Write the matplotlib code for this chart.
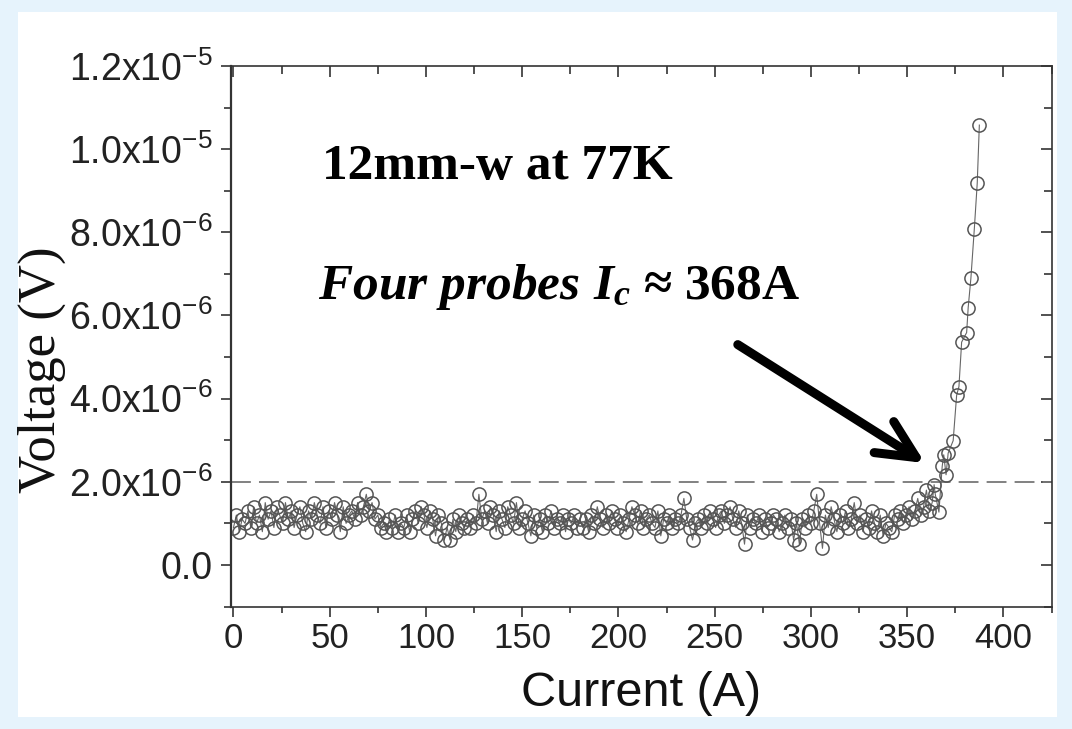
import numpy as np
import matplotlib
matplotlib.use("Agg")
import matplotlib.pyplot as plt
from matplotlib.patches import Rectangle
from matplotlib.ticker import FixedLocator, MultipleLocator, FuncFormatter

plt.rcParams["mathtext.fontset"] = "custom"
plt.rcParams["mathtext.rm"] = "Liberation Serif:bold"
plt.rcParams["mathtext.it"] = "Liberation Serif:italic:bold"
plt.rcParams["mathtext.sf"] = "Liberation Sans"

# flat part of the sweep: 1.5 A steps from 0 A, voltage in units of 1e-7 V
STEP_A = 1.5
FLOOR_0_60 = [9, 12, 8, 11, 10, 13, 9, 14, 10, 12, 8, 15, 11, 13, 9, 14, 12, 10, 15, 11,
              13, 9, 12, 14, 10, 8, 13, 11, 15, 12, 10, 14, 9, 13, 11, 15, 12, 8, 14, 10, 12]
FLOOR_60_120 = [13, 11, 15, 12, 14, 17, 13, 15, 11, 12, 9, 10, 8, 11, 9, 12, 8, 10, 9, 12,
                8, 11, 13, 10, 14, 12, 9, 13, 11, 7, 12, 10, 6, 9, 6, 11, 8, 12, 10, 9]
FLOOR_120_180 = [11, 9, 12, 10, 17, 11, 13, 10, 14, 12, 8, 13, 11, 9, 14, 12, 10, 15, 9, 11,
                 13, 10, 7, 12, 9, 11, 8, 12, 10, 13, 9, 11, 10, 12, 8, 11, 10, 12, 9, 11]
FLOOR_180_240 = [9, 11, 8, 12, 10, 14, 11, 9, 12, 10, 13, 11, 9, 12, 10, 8, 11, 14, 12, 10,
                 13, 9, 11, 12, 10, 9, 13, 7, 11, 10, 12, 9, 11, 10, 12, 16, 11, 9, 6, 10]
FLOOR_240_300 = [11, 9, 12, 10, 13, 11, 9, 12, 13, 10, 12, 14, 11, 9, 13, 10, 5, 12, 9, 11,
                 10, 12, 8, 11, 9, 10, 12, 11, 8, 10, 12, 9, 11, 6, 10, 5, 11, 9, 12, 10]
FLOOR_300_363 = [13, 17, 10, 4, 12, 9, 14, 11, 8, 12, 10, 13, 9, 11, 15, 10, 12, 8, 11, 9,
                 13, 10, 8, 12, 7, 10, 9, 8, 12, 11, 13, 10, 12, 14, 11, 13, 16, 12, 14, 18, 13, 15]

# transition region, read point by point
RISE_I = [364.0, 364.6, 366.5, 368.2, 369.0, 370.2, 371.3, 373.9, 375.7, 376.9,
          378.3, 380.9, 381.7, 383.1, 384.9, 386.4, 387.5]
RISE_V = [19.3, 17.0, 12.7, 23.7, 26.5, 21.7, 26.9, 29.9, 40.8, 42.9,
          53.6, 55.9, 61.9, 68.9, 80.9, 91.8, 105.8]

CRITERION_V = 2.0e-6
Y_TICKS = [0.0, 2e-6, 4e-6, 6e-6, 8e-6, 1e-5, 1.2e-5]
Y_TICK_LABELS = ["0.0", "2.0x10^{-6}", "4.0x10^{-6}", "6.0x10^{-6}",
                 "8.0x10^{-6}", "1.0x10^{-5}", "1.2x10^{-5}"]
X_TICKS = [0, 50, 100, 150, 200, 250, 300, 350, 400]

floor = (FLOOR_0_60 + FLOOR_60_120 + FLOOR_120_180 + FLOOR_180_240
         + FLOOR_240_300 + FLOOR_300_363)
current = np.concatenate([np.arange(len(floor)) * STEP_A, RISE_I])
voltage = np.concatenate([floor, RISE_V]) * 1e-7

fig = plt.figure(figsize=(10.72, 7.29), dpi=100)
fig.patch.set_facecolor("#e6f3fc")
fig.add_artist(Rectangle((18 / 1072, 12 / 729), (1057 - 18) / 1072, (717 - 12) / 729,
                         transform=fig.transFigure, facecolor="white",
                         edgecolor="none", zorder=0))

ax = fig.add_axes([0.2151, 0.168, 0.7658, 0.7414])
ax.set_facecolor("white")

ax.axhline(CRITERION_V, color="#777777", lw=1.3, ls=(0, (11, 4.5)), zorder=1)
ax.plot(current, voltage, color="#666666", lw=0.8, marker="o", ms=9.5,
        mfc="none", mec="#555555", mew=1.1, zorder=2)

ax.set_xlim(-1.5, 425)
ax.set_ylim(-1e-6, 1.2e-5)

ax.xaxis.set_major_locator(FixedLocator(X_TICKS))
ax.xaxis.set_minor_locator(MultipleLocator(25))
ax.yaxis.set_major_locator(FixedLocator(Y_TICKS))
ax.yaxis.set_minor_locator(MultipleLocator(1e-6))
lbl = dict(zip(Y_TICKS, Y_TICK_LABELS))
ax.yaxis.set_major_formatter(FuncFormatter(
    lambda v, p: "0.0" if abs(v) < 1e-12 else r"$\mathsf{" + lbl[min(lbl, key=lambda k: abs(k - v))] + "}$"))

for s in ax.spines.values():
    s.set_color("#333333")
    s.set_linewidth(1.2)
ax.spines["left"].set_linewidth(1.6)

ax.tick_params(axis="both", which="both", color="#333333", width=1.2)
ax.tick_params(axis="x", which="major", direction="out", length=7, pad=4,
               labelsize=25, labelcolor="#222222")
ax.tick_params(axis="x", which="minor", direction="out", length=4)
ax.tick_params(axis="y", which="major", direction="out", length=7, pad=6,
               labelsize=27, labelcolor="#222222")
ax.tick_params(axis="y", which="minor", direction="out", length=5)
for t in ax.get_xticklabels() + ax.get_yticklabels():
    t.set_fontfamily("Liberation Sans")

# inward ticks on the top and right edges, no labels
for twin, side in ((ax.secondary_xaxis("top"), "x"), (ax.secondary_yaxis("right"), "y")):
    twin.tick_params(which="both", direction="in", color="#333333", width=1.2)
    twin.tick_params(which="major", length=8)
    twin.tick_params(which="minor", length=6)
    if side == "x":
        twin.xaxis.set_major_locator(FixedLocator(X_TICKS))
        twin.xaxis.set_minor_locator(MultipleLocator(25))
        twin.set_xticklabels([])
    else:
        twin.yaxis.set_major_locator(FixedLocator(Y_TICKS))
        twin.yaxis.set_minor_locator(MultipleLocator(1e-6))
        twin.set_yticklabels([])
    twin.spines[:].set_visible(False)

ax.set_xlabel("Current (A)", fontsize=35, family="Liberation Sans",
              color="#111111", labelpad=12)
ax.set_ylabel("Voltage (V)", fontsize=38, family="Liberation Serif",
              color="#111111")
ax.yaxis.set_label_coords(-0.2, 0.4376)

ax.text(46, 9.28e-6, "12mm-w at 77K", fontsize=37, va="baseline",
        family="Liberation Serif", fontweight="bold", color="black")
ax.text(44, 6.39e-6, r"$Four\ probes\ I_c$ ≈ 368A", va="baseline",
        fontsize=37, family="Liberation Serif", fontweight="bold", color="black")

ax.annotate("", xy=(359.3, 2.45e-6), xytext=(262.0, 5.3e-6),
            arrowprops=dict(arrowstyle="->,head_length=1.25,head_width=0.6",
                            lw=6.5, color="black", shrinkA=0, shrinkB=0,
                            mutation_scale=22, capstyle="round", joinstyle="round"))

fig.savefig("out.png", dpi=100, facecolor=fig.get_facecolor())
